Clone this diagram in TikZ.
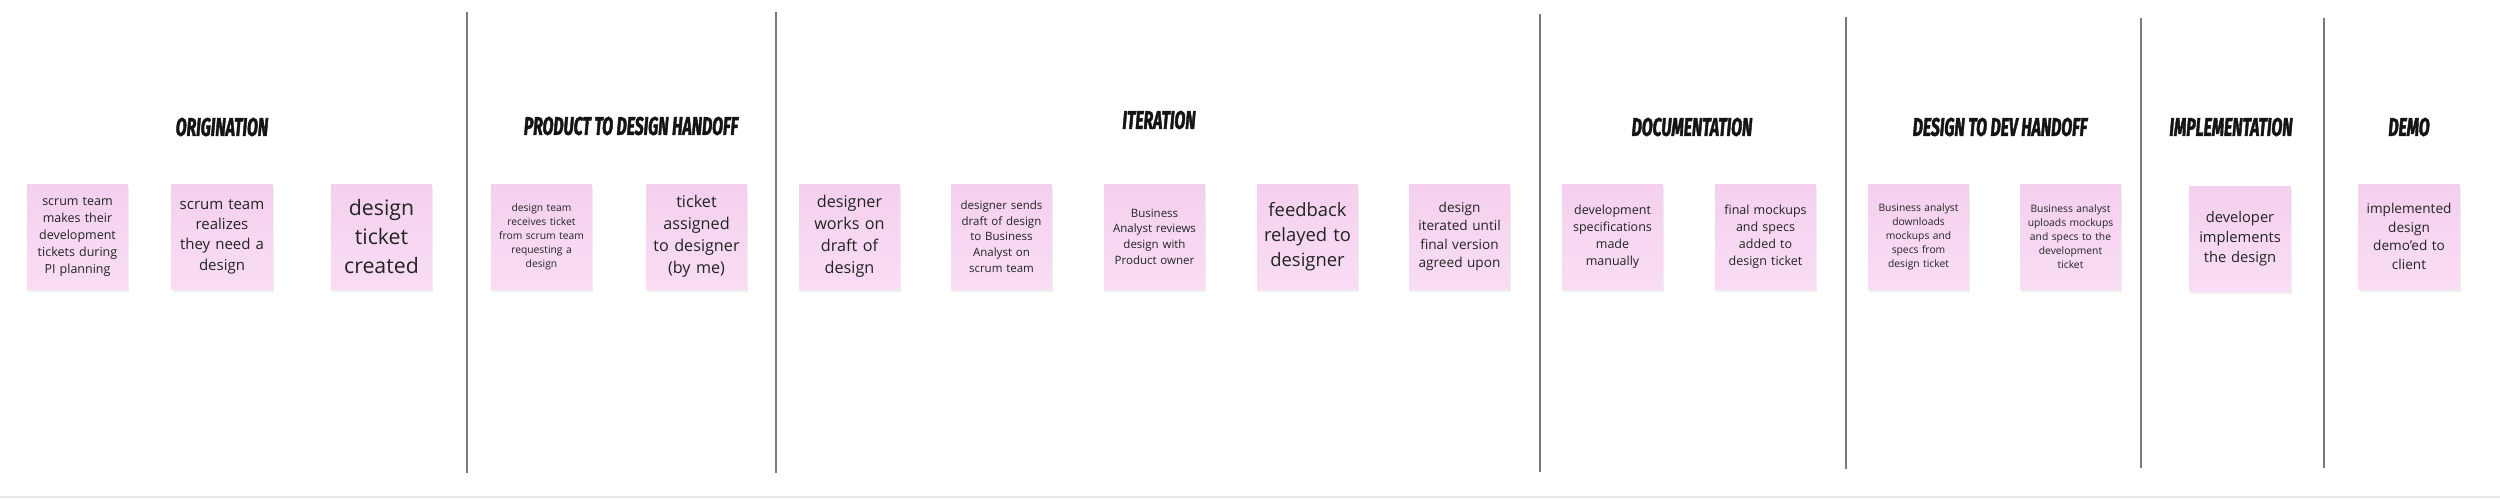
\documentclass[tikz,border=0pt]{standalone}
\usepackage{fontspec}
\setmainfont{Open Sans}
\newfontfamily\titlefont[FakeStretch=0.62, BoldItalicFeatures={FakeBold=1.6}]{Fira Sans}
\usetikzlibrary{shadows}
\definecolor{notetop}{HTML}{F4D0EE}
\definecolor{notebot}{HTML}{F9DDF4}
\definecolor{notetext}{HTML}{232323}
\definecolor{divider}{HTML}{7A7A7A}
\definecolor{floor}{HTML}{E8E8E8}
\newcommand{\nfs}[2]{\fontsize{#1pt}{#2pt}\selectfont}
\tikzset{
  note/.style={rectangle, inner sep=0pt, minimum width=101pt, minimum height=105pt,
    text width=96pt, align=center, top color=notetop, bottom color=notebot,
    text=notetext, drop shadow={opacity=0.12, shadow xshift=1pt, shadow yshift=-3pt}},
  phase/.style={inner sep=0pt, text=black!92, font=\titlefont\bfseries\itshape\fontsize{25.5pt}{25.5pt}\selectfont},
  divline/.style={draw=divider, line width=1.6pt}
}
\begin{document}
\begin{tikzpicture}[x=1pt,y=-1pt]
\useasboundingbox (0,0) rectangle (2500,498);
\fill[white] (0,0) rectangle (2500,498);
\fill[floor] (0,496) rectangle (2500,498);

% dividers
\coordinate (d1t) at (467,12);   \coordinate (d1b) at (467,473);
\coordinate (d2t) at (776,12);   \coordinate (d2b) at (776,473);
\coordinate (d3t) at (1540,14);  \coordinate (d3b) at (1540,472);
\coordinate (d4t) at (1846,17);  \coordinate (d4b) at (1846,469);
\coordinate (d5t) at (2141,18);  \coordinate (d5b) at (2141,468);
\coordinate (d6t) at (2324,18);  \coordinate (d6b) at (2324,468);
\foreach \i in {1,...,6} \draw[divline] (d\i t) -- (d\i b);

% phase titles
\node[phase] (t1) at (222,127) {ORIGINATION};
\node[phase] (t2) at (631,126) {PRODUCT TO DESIGN HANDOFF};
\node[phase] (t3) at (1159,120) {ITERATION};
\node[phase] (t4) at (1692,127) {DOCUMENTATION};
\node[phase] (t5) at (2000,127) {DESIGN TO DEV HANDOFF};
\node[phase] (t6) at (2231,127) {IMPLEMENTATION};
\node[phase] (t7) at (2409,127) {DEMO};

% sticky notes
\node[note, font=\nfs{12.5}{17}] (n1) at (77.5,236.5) {scrum team\\makes their\\development\\tickets during\\PI planning};
\node[note, font=\nfs{15}{20.3}] (n2) at (222,236.5) {scrum team\\realizes\\they need a\\design};
\node[note, font=\nfs{21.3}{29}] (n3) at (381.5,236.5) {design\\ticket\\created};
\node[note, font=\nfs{10.3}{14}] (n4) at (541.5,236.5) {design team\\receives ticket\\from scrum team\\requesting a\\design};
\node[note, font=\nfs{16.2}{22}] (n5) at (696.5,236.5) {ticket\\assigned\\to designer\\(by me)};
\node[note, font=\nfs{16.2}{22}] (n6) at (849.5,236.5) {designer\\works on\\draft of\\design};
\node[note, font=\nfs{11.5}{15.7}] (n7) at (1001.5,236.5) {designer sends\\draft of design\\to Business\\Analyst on\\scrum team};
\node[note, font=\nfs{11.5}{15.7}] (n8) at (1154.5,236.5) {Business\\Analyst reviews\\design with\\Product owner};
\node[note, font=\nfs{18.4}{25}] (n9) at (1307.5,236.5) {feedback\\relayed to\\designer};
\node[note, font=\nfs{13.6}{18.5}] (n10) at (1459.5,236.5) {design\\iterated until\\final version\\agreed upon};
\node[note, font=\nfs{12.5}{17}] (n11) at (1612.5,236.5) {development\\specifications\\made\\manually};
\node[note, font=\nfs{12.5}{17}] (n12) at (1765.5,236.5) {final mockups\\and specs\\added to\\design ticket};
\node[note, font=\nfs{10.3}{14}] (n13) at (1918.5,236.5) {Business analyst\\downloads\\mockups and\\specs from\\design ticket};
\node[note, font=\nfs{10.3}{14}] (n14) at (2070.5,236.5) {Business analyst\\uploads mockups\\and specs to the\\development\\ticket};
\node[note, font=\nfs{14.7}{20}] (n15) at (2240,238.5) {developer\\implements\\the design};
\node[note, font=\nfs{13.6}{18.5}] (n16) at (2409,236.5) {implemented\\design\\demo'ed to\\client};
\end{tikzpicture}
\end{document}
